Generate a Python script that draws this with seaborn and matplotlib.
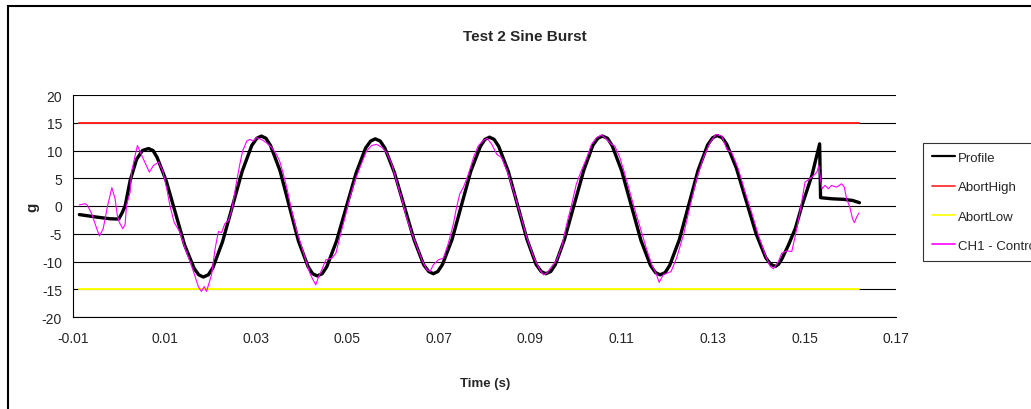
import numpy as np
import pandas as pd
import seaborn as sns
import matplotlib
matplotlib.use("Agg")
import matplotlib.pyplot as plt
from matplotlib.patches import Rectangle

# values
title = "Test 2 Sine Burst"
x_label = "Time (s)"
y_label = "g"
series_names = ["Profile", "AbortHigh", "AbortLow", "CH1 - Control"]

profile_t = [-0.0086, -0.0048, -0.0019, 0.0000, 0.0007, 0.0014, 0.0025, 0.0039, 0.0052, 0.0065, 0.0075,
             0.0084, 0.0104, 0.0124, 0.0144, 0.0165, 0.0175, 0.0185, 0.0196,
             0.0206, 0.0227, 0.02485, 0.0270, 0.0291, 0.0302, 0.0312, 0.0322,
             0.0332, 0.0353, 0.0373, 0.0393, 0.0414, 0.0424, 0.0434, 0.0445,
             0.0455, 0.0476, 0.04975, 0.0519, 0.0540, 0.0551, 0.0561, 0.0572,
             0.0582, 0.0603, 0.06245, 0.0646, 0.0667, 0.0678, 0.0688, 0.0698,
             0.0708, 0.0729, 0.07495, 0.0770, 0.0791, 0.0801, 0.0811, 0.0821,
             0.0831, 0.0852, 0.08725, 0.0893, 0.0913, 0.0924, 0.0934, 0.0945,
             0.0955, 0.0975, 0.0996, 0.1017, 0.1037, 0.1048, 0.1058, 0.1069,
             0.1079, 0.1100, 0.1121, 0.1142, 0.1163, 0.1174, 0.1184, 0.1195,
             0.1205, 0.1226, 0.12465, 0.1267, 0.1288, 0.1299, 0.1309, 0.1320,
             0.1330, 0.1351, 0.13725, 0.1394, 0.1415, 0.1426, 0.1436, 0.1443,
             0.1450, 0.1465, 0.1480, 0.1494, 0.1516, 0.1533,
             0.1535, 0.1560, 0.1585, 0.1605, 0.1620]
profile_g = [-1.55, -2.0, -2.3, -2.35, -1.3, 0.0, 4.6, 8.4, 10.0, 10.35, 10.0,
             8.75, 4.5, -1.25, -7.0, -11.25, -12.4, -12.8, -12.4,
             -11.1, -6.45, -0.1, 6.25, 10.9, 12.2, 12.6, 12.2,
             10.9, 6.3, 0.0, -6.3, -10.9, -12.2, -12.6, -12.2,
             -10.95, -6.4, -0.25, 5.9, 10.45, 11.7, 12.1, 11.7,
             10.45, 6.0, -0.05, -6.1, -10.6, -11.8, -12.2, -11.8,
             -10.55, -6.05, 0.1, 6.25, 10.75, 12.0, 12.4, 12.0,
             10.75, 6.25, 0.1, -6.05, -10.55, -11.8, -12.2, -11.8,
             -10.55, -6.0, 0.2, 6.4, 10.95, 12.2, 12.6, 12.2,
             10.9, 6.35, 0.1, -6.15, -10.7, -12.0, -12.4, -12.0,
             -10.7, -6.1, 0.15, 6.4, 11.0, 12.3, 12.7, 12.3,
             11.1, 6.8, 0.9, -5.0, -9.3, -10.5, -10.9, -10.5,
             -9.6, -7.0, -4.0, 0.0, 5.5, 11.2,
             1.5, 1.3, 1.2, 1.0, 0.6]

control_t = [-0.0086, -0.0074, -0.0069, -0.0059, -0.0048, -0.0042, -0.0034, -0.0025, -0.0015, -0.0008,
             -0.0003, 0.0001, 0.0009, 0.0014, 0.0017, 0.0025, 0.0028, 0.0038, 0.0041, 0.0046,
             0.0057, 0.0067, 0.0076, 0.0087, 0.0096, 0.0105, 0.0112, 0.0121, 0.0133, 0.0145,
             0.0156, 0.0167, 0.0174, 0.0181, 0.0187, 0.0192, 0.0203, 0.0211, 0.0218, 0.0225,
             0.0232, 0.0240, 0.0247, 0.0257, 0.0265, 0.0271, 0.0280, 0.0287, 0.0294, 0.0301,
             0.0312, 0.0323, 0.0335, 0.0345, 0.0352, 0.0360, 0.0369, 0.0378, 0.0389, 0.0400,
             0.0411, 0.0418, 0.0425, 0.0431, 0.0436, 0.0444, 0.0453, 0.0466, 0.0475, 0.0484,
             0.0495, 0.0506, 0.0517, 0.0528, 0.0542, 0.0553, 0.0564, 0.0575, 0.0586, 0.0597,
             0.0607, 0.0619, 0.0629, 0.0641, 0.0652, 0.0663, 0.0674, 0.0681, 0.0688, 0.0699,
             0.0710, 0.0721, 0.0732, 0.0739, 0.0746, 0.0754, 0.0765, 0.0776, 0.0786, 0.0797,
             0.0806, 0.0816, 0.0827, 0.0837, 0.0849, 0.0863, 0.0878, 0.0892, 0.0907, 0.0921,
             0.0929, 0.0936, 0.0947, 0.0958, 0.0969, 0.0980, 0.0991, 0.1001, 0.1012, 0.1024,
             0.1034, 0.1045, 0.1056, 0.1067, 0.1078, 0.1085, 0.1096, 0.1111, 0.1125, 0.1140,
             0.1155, 0.1166, 0.1175, 0.1182, 0.1191, 0.1202, 0.1208, 0.1220, 0.1235, 0.1250,
             0.1264, 0.1279, 0.1293, 0.1306, 0.1319, 0.1330, 0.1341, 0.1355, 0.1370, 0.1384,
             0.1399, 0.1414, 0.1425, 0.1432, 0.1443, 0.1450, 0.1461, 0.1472, 0.1480, 0.1490,
             0.1501, 0.1516, 0.1527, 0.1531, 0.1534, 0.1538, 0.1545, 0.1552, 0.1559, 0.1570,
             0.1581, 0.1587, 0.1592, 0.1599, 0.1605, 0.1609, 0.1614, 0.1619]
control_g = [0.2, 0.4, 0.2, -1.4, -4.1, -5.4, -4.1, -0.2, 3.3, 1.3,
             -1.7, -2.9, -4.1, -3.3, 0.1, 2.5, 6.1, 9.9, 10.9, 9.9,
             7.9, 6.1, 7.3, 7.9, 6.4, 3.1, 0.1, -2.9, -4.6, -7.6,
             -10.0, -12.7, -14.5, -15.4, -14.5, -15.4, -12.4, -7.6, -4.6, -4.8,
             -3.2, -2.6, -0.8, 4.0, 7.6, 9.9, 11.7, 12.0, 11.7, 12.3,
             12.0, 11.4, 10.5, 9.3, 8.1, 5.8, 2.8, -0.8, -4.4, -7.3,
             -10.3, -12.1, -13.3, -14.2, -13.0, -11.5, -9.7, -9.4, -8.5, -5.5,
             -2.0, 1.6, 4.6, 7.0, 9.9, 10.9, 11.1, 10.6, 9.6, 7.6,
             4.6, 1.3, -2.0, -4.9, -7.3, -9.7, -11.5, -11.8, -10.6, -9.7,
             -9.4, -6.7, -3.2, -0.2, 2.2, 3.4, 5.8, 8.75, 10.8, 11.8,
             12.2, 11.1, 9.3, 8.75, 6.4, 2.8, -1.4, -5.5, -9.1, -11.5,
             -12.4, -12.1, -10.9, -9.7, -7.3, -3.2, 0.4, 4.0, 6.4, 8.75,
             11.1, 12.3, 12.8, 12.0, 11.1, 10.8, 8.75, 4.6, 0.4, -3.75,
             -7.9, -10.6, -12.1, -13.75, -12.4, -12.0, -11.8, -9.4, -5.25, 0.1,
             4.9, 8.75, 11.4, 12.9, 12.6, 10.2, 9.6, 6.7, 2.5, -1.1,
             -5.25, -8.8, -10.9, -11.3, -10.0, -8.5, -8.1, -8.2, -5.25, -1.1,
             4.3, 5.2, 6.1, 7.25, 5.5, 3.1, 3.7, 3.1, 3.7, 3.4,
             4.0, 3.4, 1.3, -0.2, -2.3, -3.0, -2.0, -1.25]

abort_t = [-0.0086, 0.1619]
abort_high = [15, 15]
abort_low = [-15, -15]

x_ticks = [-0.01, 0.01, 0.03, 0.05, 0.07, 0.09, 0.11, 0.13, 0.15, 0.17]
y_ticks = [-20, -15, -10, -5, 0, 5, 10, 15, 20]


def main():
    sns.set_style("white")
    plt.rcParams['font.family'] = ['Liberation Sans', 'DejaVu Sans']

    fig = plt.figure(figsize=(10.31, 4.10), dpi=100)
    ax = fig.add_axes([73 / 1031, 1 - 318 / 410, (896 - 73) / 1031, (318 - 96) / 410])

    prof = pd.DataFrame({'t': profile_t, 'g': profile_g})
    ctrl = pd.DataFrame({'t': control_t, 'g': control_g})
    hi = pd.DataFrame({'t': abort_t, 'g': abort_high})
    lo = pd.DataFrame({'t': abort_t, 'g': abort_low})

    sns.lineplot(data=prof, x='t', y='g', ax=ax, color='black', lw=2.4,
                 sort=False, estimator=None, label=series_names[0], zorder=4,
                 solid_joinstyle='round')
    sns.lineplot(data=hi, x='t', y='g', ax=ax, color='#ff2020', lw=1.4,
                 sort=False, estimator=None, label=series_names[1], zorder=3)
    sns.lineplot(data=lo, x='t', y='g', ax=ax, color='#ffff00', lw=1.4,
                 sort=False, estimator=None, label=series_names[2], zorder=3)
    sns.lineplot(data=ctrl, x='t', y='g', ax=ax, color='#ff00ff', lw=0.8,
                 sort=False, estimator=None, label=series_names[3], zorder=5)

    ax.set_xlim(-0.01, 0.17)
    ax.set_ylim(-20, 20)
    ax.set_xticks(x_ticks)
    ax.set_xticklabels(["{:g}".format(v) for v in x_ticks])
    ax.set_yticks(y_ticks)
    ax.set_yticklabels([str(v) for v in y_ticks])
    ax.tick_params(axis='both', direction='out', length=4, width=0.8,
                   color='black', labelsize=10, pad=4)
    ax.tick_params(axis='x', pad=6)
    ax.yaxis.grid(True, color='black', lw=0.8)
    ax.set_axisbelow(True)
    for side in ['top', 'right']:
        ax.spines[side].set_visible(False)
    for side in ['left', 'bottom']:
        ax.spines[side].set_color('black')
        ax.spines[side].set_linewidth(0.8)

    ax.set_xlabel("")
    ax.set_ylabel("")
    fig.text(485 / 1031, 1 - 384 / 410, x_label, ha='center', va='center',
             fontsize=9.5, fontweight='bold')
    fig.text(32 / 1031, 1 - 207 / 410, y_label, ha='center', va='center',
             fontsize=11, fontweight='bold', rotation=90)
    fig.text(525 / 1031, 1 - 37 / 410, title, ha='center', va='center',
             fontsize=11, fontweight='bold')

    leg = ax.legend(loc='upper left', bbox_to_anchor=(923 / 1031, 1 - 144 / 410),
                    bbox_transform=fig.transFigure, fontsize=9.5, frameon=True,
                    fancybox=False, handlelength=1.75, handletextpad=0.25,
                    labelspacing=1.3, borderpad=0.65, borderaxespad=0)
    leg.get_frame().set_edgecolor('black')
    leg.get_frame().set_linewidth(0.8)
    for line in leg.get_lines():
        line.set_linewidth(1.6 if line.get_color() == 'black' else 1.2)

    # outer chart border, runs off the right and bottom edge
    fig.patches.append(Rectangle((8 / 1031, -0.05), 1.1, 1 - 7 / 410 + 0.05,
                                 transform=fig.transFigure, fill=False,
                                 edgecolor='black', lw=1.5))

    fig.savefig("out.png", dpi=100)


if __name__ == "__main__":
    main()
